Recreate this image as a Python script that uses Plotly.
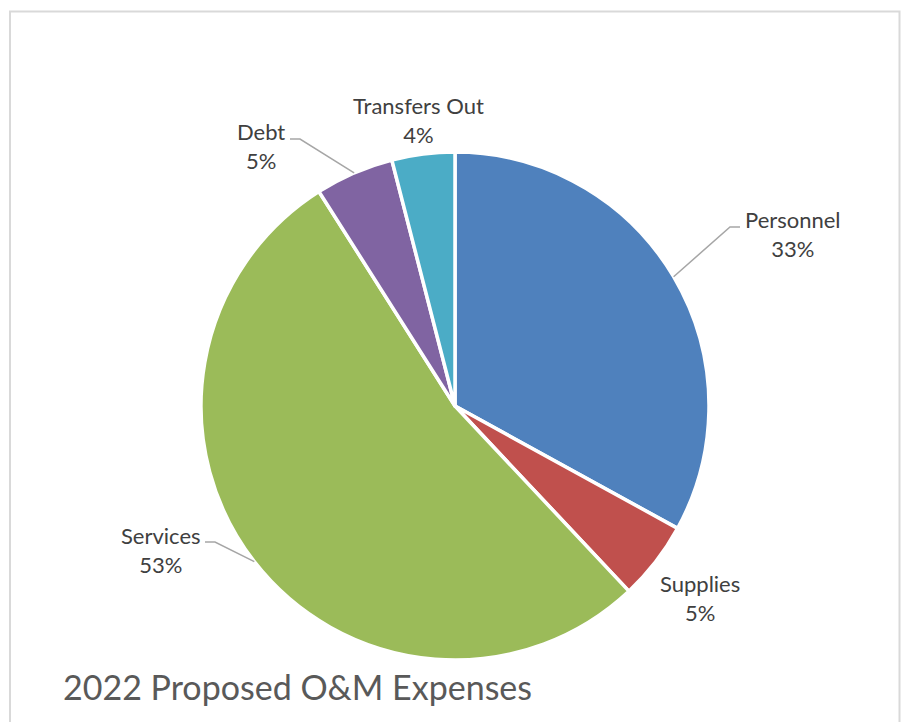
import math
import plotly.graph_objects as go

# Expense categories and their share of the total (percent)
categories = ["Personnel", "Supplies", "Services", "Debt", "Transfers Out"]
shares = [33, 5, 53, 5, 4]
colors = ["#4F81BD", "#C0504D", "#9BBB59", "#8064A2", "#4BACC6"]
title_text = "2022 Proposed O&M Expenses"

W, H = 905, 722
CX, CY, R = 455, 406, 254  # pie centre / radius in pixels


def px(x):
    return x / W


def py(y):
    return 1 - y / H


fig = go.Figure(
    go.Pie(
        labels=categories,
        values=shares,
        sort=False,
        direction="clockwise",
        rotation=0,
        marker=dict(colors=colors, line=dict(color="white", width=3.5)),
        textinfo="none",
        hoverinfo="label+percent",
        showlegend=False,
        domain=dict(x=[px(CX - R), px(CX + R)], y=[py(CY + R), py(CY - R)]),
    )
)


def edge_point(i):
    """Point on the rim at the middle of slice i (clockwise from 12 o'clock)."""
    total = sum(shares)
    start = sum(shares[:i]) / total
    mid = (start + shares[i] / total / 2) * 2 * math.pi
    return CX + R * math.sin(mid), CY - R * math.cos(mid)


# label placement: (centre x, name y, leader elbow, leader end at label)
label_pos = {
    "Personnel": (793, 219, (730, 227), (740, 227)),
    "Supplies": (700, 583, None, None),
    "Services": (161, 535, (215, 542), (205, 542)),
    "Debt": (261, 131, (300, 139), (290, 139)),
    "Transfers Out": (418, 105, None, None),
}

label_font = dict(family="Lato, Open Sans, sans-serif", size=22, color="#404040")
annotations = []
shapes = []
for i, (cat, val) in enumerate(zip(categories, shares)):
    lx, ly, elbow, end = label_pos[cat]
    annotations.append(
        dict(
            x=px(lx), y=py(ly + 15), xref="paper", yref="paper",
            text=f"{cat}<br>{val}%", showarrow=False,
            font=label_font, align="center", xanchor="center", yanchor="middle",
        )
    )
    if elbow is not None:
        ex, ey = edge_point(i)
        path = f"M {px(ex)} {py(ey)} L {px(elbow[0])} {py(elbow[1])} L {px(end[0])} {py(end[1])}"
        shapes.append(
            dict(type="path", xref="paper", yref="paper", path=path,
                 line=dict(color="#A6A6A6", width=1.5))
        )

# chart title at the bottom left
annotations.append(
    dict(
        x=px(61), y=py(686), xref="paper", yref="paper", text=title_text,
        showarrow=False, xanchor="left", yanchor="middle",
        font=dict(family="Lato, Open Sans, sans-serif", size=34, color="#595959"),
    )
)

# chart frame
shapes.append(
    dict(type="rect", xref="paper", yref="paper",
         x0=px(10), x1=px(899.5), y0=py(740), y1=py(11.5),
         line=dict(color="#D9D9D9", width=2), fillcolor="rgba(0,0,0,0)", layer="below")
)

fig.update_layout(
    width=W, height=H,
    margin=dict(l=0, r=0, t=0, b=0),
    paper_bgcolor="white", plot_bgcolor="white",
    annotations=annotations, shapes=shapes,
)

fig.write_html("out.html")
